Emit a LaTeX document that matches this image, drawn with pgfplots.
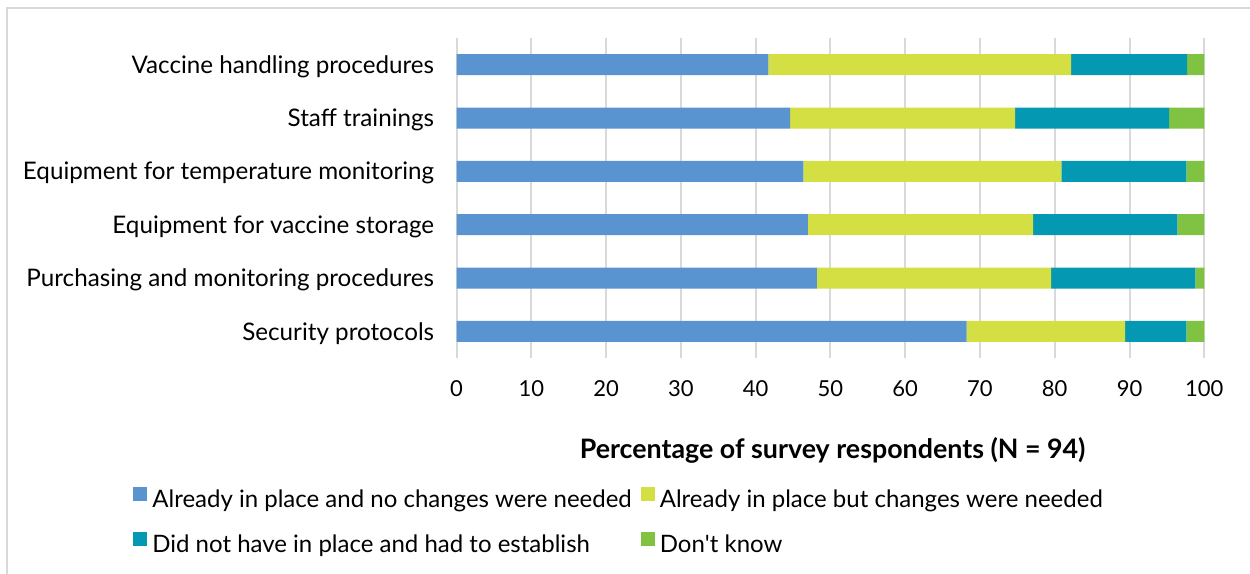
\documentclass[border=0pt]{standalone}
\usepackage{pgfplots}
\pgfplotsset{compat=1.18}
\usepackage{fontspec}
\setmainfont{Lato}

\definecolor{cBlue}{RGB}{90,148,208}
\definecolor{cLime}{RGB}{212,223,67}
\definecolor{cTeal}{RGB}{5,152,178}
\definecolor{cGreen}{RGB}{128,194,65}
\definecolor{gridgray}{RGB}{217,217,217}

\begin{document}
\fontsize{12bp}{14bp}\selectfont
\begin{tikzpicture}
\useasboundingbox (0,0) rectangle (625bp,287bp);
\draw[color=gridgray, line width=1bp] (3.5bp,0) -- (3.5bp,283bp) -- (625bp,283bp);
\begin{axis}[
  at={(228.25bp,108bp)}, anchor=south west,
  scale only axis, width=373.9bp, height=160bp,
  xbar stacked, bar width=10.5bp,
  xmin=0, xmax=100, ymin=0.5, ymax=6.5,
  xtick={0,10,...,100}, ytick={1,...,6},
  yticklabels={Security protocols\hspace{3.5bp},
               Purchasing and monitoring procedures,
               Equipment for vaccine storage,
               Equipment for temperature monitoring,
               Staff trainings,
               Vaccine handling procedures},
  axis line style={draw=none},
  major tick length=0pt,
  xmajorgrids, ymajorgrids=false,
  grid style={color=gridgray, line width=1bp},
  /pgf/number format/assume math mode=true,
  yticklabel style={anchor=east, inner sep=0pt, xshift=-11bp, yshift=-1bp,
                    font=\fontsize{12.1bp}{14bp}\selectfont},
  xticklabel style={anchor=north, inner sep=0pt, yshift=-11bp,
                    font=\fontsize{11bp}{13bp}\selectfont},
  xlabel={\bfseries Percentage of survey respondents (N = 94)},
  xlabel style={at={(axis description cs:0.503,-0.2875)}, anchor=center,
                font=\fontsize{13.4bp}{15bp}\selectfont},
  legend columns=2,
  legend cell align=left,
  legend image code/.code={\fill[#1] (0bp,0bp) rectangle (7bp,7bp);},
  legend style={draw=none, fill=none, inner sep=0pt,
    at={(axis description cs:-0.4326,-0.403)}, anchor=north west,
    font=\fontsize{12bp}{14bp}\selectfont,
    row sep=10bp,
    nodes={inner sep=0pt, text height=8.5bp, text depth=2.5bp},
    /tikz/every odd column/.append style={column sep=2.5bp},
    /tikz/every even column/.append style={column sep=4.5bp}},
]
% rows from bottom (Security protocols) to top (Vaccine handling procedures)
\addplot[fill=cBlue, draw=none] coordinates
  {(68.2,1) (48.2,2) (47.0,3) (46.4,4) (44.6,5) (41.7,6)};
\addplot[fill=cLime, draw=none] coordinates
  {(21.2,1) (31.3,2) (30.1,3) (34.5,4) (30.1,5) (40.5,6)};
\addplot[fill=cTeal, draw=none] coordinates
  {(8.2,1) (19.3,2) (19.3,3) (16.7,4) (20.6,5) (15.5,6)};
\addplot[fill=cGreen, draw=none] coordinates
  {(2.4,1) (1.2,2) (3.6,3) (2.4,4) (4.7,5) (2.3,6)};
\legend{Already in place and no changes were needed,
        Already in place but changes were needed,
        Did not have in place and had to establish,
        Don\textquotesingle t know}
\end{axis}
\end{tikzpicture}
\end{document}
